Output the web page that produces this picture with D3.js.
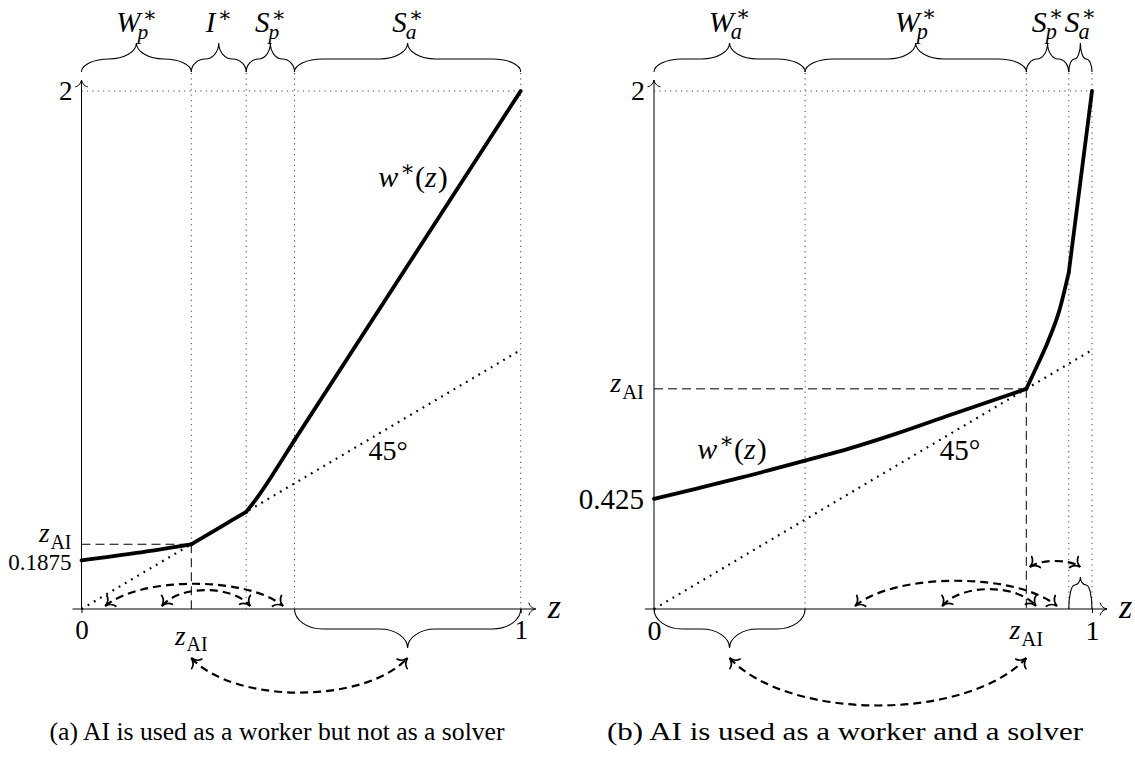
<!DOCTYPE html>
<html>
<head>
<meta charset="utf-8">
<script src="https://cdn.jsdelivr.net/npm/d3@7"></script>
<style>
  body { margin: 0; background: #fff; }
  text { font-family: "Liberation Serif", "DejaVu Serif", serif; fill: #000; }
</style>
</head>
<body>
<svg id="chart" width="1135" height="758"></svg>
<script>
// curve w*(z), panel (a)
const leftZ = [0, 0.125, 0.25, 0.3125, 0.375, 0.40, 0.43, 0.46, 0.485, 1];
const leftW = [0.1875, 0.2165, 0.25, 0.3125, 0.375, 0.43, 0.505, 0.585, 0.652, 2];
const leftBounds = [0, 0.25, 0.375, 0.485, 1];
const leftRegions = [["W", "p"], ["I", null], ["S", "p"], ["S", "a"]];
const leftZAI = 0.25;
const leftIntercept = "0.1875";
const leftArcs = [[0.054, 0.459], [0.183, 0.384]];

// curve w*(z), panel (b)
const rightZ = [0, 0.1, 0.2, 0.345, 0.447, 0.55, 0.676, 0.85, 0.875, 0.9, 0.925, 0.947, 1];
const rightW = [0.425, 0.466, 0.508, 0.573, 0.62, 0.675, 0.749, 0.85, 0.94, 1.035, 1.15, 1.3, 2];
const rightBounds = [0, 0.345, 0.85, 0.947, 1];
const rightRegions = [["W", "a"], ["W", "p"], ["S", "p"], ["S", "a"]];
const rightZAI = 0.85;
const rightIntercept = "0.425";
const rightArcs = [[0.459, 0.92], [0.658, 0.872]];
const rightSmallArc = [0.858, 0.973];

const yMax = 2;
const captions = ["(a) AI is used as a worker but not as a solver",
                  "(b) AI is used as a worker and a solver"];

const svg = d3.select("#chart");
const defs = svg.append("defs");

// tikz style "to" arrow tips
function tipMarker(id, sw, s) {
  defs.append("marker")
    .attr("id", id)
    .attr("viewBox", "-12 -9 14 18")
    .attr("refX", 0).attr("refY", 0)
    .attr("markerWidth", 14).attr("markerHeight", 18)
    .attr("markerUnits", "userSpaceOnUse")
    .attr("orient", "auto-start-reverse")
    .append("path")
    .attr("d", `M${-8 * s},${-7 * s} C${-7 * s},${-2.5 * s} ${-3 * s},${-0.7 * s} 0,0 C${-3 * s},${0.7 * s} ${-7 * s},${2.5 * s} ${-8 * s},${7 * s}`)
    .attr("fill", "none").attr("stroke", "#000").attr("stroke-width", sw)
    .attr("stroke-linecap", "round");
}
tipMarker("tipThin", 1, 0.85);
tipMarker("tipThick", 1.7, 1);

// text with italic/upright pieces and scripts, y = baseline
function tex(g, x, y, pieces, size, anchor) {
  const grp = g.append("g");
  let cx = 0;
  pieces.forEach(p => {
    if (p.sup !== undefined || p.sub !== undefined) {
      let w1 = 0, w2 = 0;
      if (p.sup) {
        const s = grp.append("text").attr("x", cx + 1).attr("y", -size * 0.36)
          .attr("font-size", size * 0.72).text(p.sup);
        w1 = s.node().getComputedTextLength() + 1;
      }
      if (p.sub) {
        const k = p.kern || 0;
        const s = grp.append("text").attr("x", cx + k).attr("y", size * 0.24)
          .attr("font-size", size * 0.74)
          .attr("font-style", p.subUp ? "normal" : "italic").text(p.sub);
        w2 = s.node().getComputedTextLength() + k;
      }
      cx += Math.max(w1, w2);
    } else {
      const s = grp.append("text").attr("x", cx).attr("y", 0)
        .attr("font-size", size)
        .attr("font-style", p.i ? "italic" : "normal").text(p.t);
      cx += s.node().getComputedTextLength() + (p.i ? 1 : 0);
    }
  });
  const dx = anchor === "middle" ? -cx / 2 : anchor === "end" ? -cx : 0;
  grp.attr("transform", `translate(${x + dx},${y})`);
}

const zAI = [{t: "z", i: true}, {sub: "AI", subUp: true}];

// curly brace between x1 and x2, base y0, dir -1 up / +1 down
function brace(g, x1, x2, y0, dir, h, tip) {
  const r = Math.min(28, (x2 - x1) / 4);
  const xm = (x1 + x2) / 2;
  const yf = y0 + dir * h, yt = y0 + dir * tip;
  const ym = y0 + dir * (h + (tip - h) * 0.45);
  const d = `M${x1},${y0}
    C${x1},${y0 + dir * h * 0.55} ${x1 + r * 0.45},${yf} ${x1 + r},${yf}
    L${xm - r},${yf}
    C${xm - r * 0.45},${yf} ${xm},${ym} ${xm},${yt}
    C${xm},${ym} ${xm + r * 0.45},${yf} ${xm + r},${yf}
    L${x2 - r},${yf}
    C${x2 - r * 0.45},${yf} ${x2},${y0 + dir * h * 0.55} ${x2},${y0}`;
  g.append("path").attr("d", d).attr("fill", "none")
    .attr("stroke", "#000").attr("stroke-width", 1.1);
}

// dashed bent arrow, both ends
function arc(g, x1, x2, y, depth, dir) {
  const L = x2 - x1;
  const c = dir * depth / 0.75;
  g.append("path")
    .attr("d", `M${x1},${y} C${x1 + 0.2 * L},${y + c} ${x2 - 0.2 * L},${y + c} ${x2},${y}`)
    .attr("fill", "none").attr("stroke", "#000").attr("stroke-width", 2.2)
    .attr("stroke-dasharray", "8,5")
    .attr("marker-start", "url(#tipThick)").attr("marker-end", "url(#tipThick)");
}

function panel(opt) {
  const g = svg.append("g");
  const x = d3.scaleLinear().domain([0, 1]).range(opt.xr);
  const y = d3.scaleLinear().domain([0, yMax]).range([609, 91]);
  const fs = opt.fs;
  const x0 = x(0), y0 = y(0);

  const curveAt = z => {
    const i = d3.bisectLeft(opt.zs, z);
    if (opt.zs[i] === z) return opt.ws[i];
    const t = (z - opt.zs[i - 1]) / (opt.zs[i] - opt.zs[i - 1]);
    return opt.ws[i - 1] + t * (opt.ws[i] - opt.ws[i - 1]);
  };

  // dotted guides
  const dotted = {stroke: "#444", "stroke-width": 1, "stroke-dasharray": "1.2,4.2"};
  const line = (x1, y1, x2, y2, st) => {
    const l = g.append("line").attr("x1", x1).attr("y1", y1).attr("x2", x2).attr("y2", y2);
    Object.entries(st).forEach(([k, v]) => l.attr(k, v));
    return l;
  };
  line(x0, y(yMax), x(1), y(yMax), dotted);
  opt.bounds.slice(1).forEach(b => {
    if (b === opt.zai) {
      line(x(b), 73, x(b), y(curveAt(b)), dotted);
    } else {
      line(x(b), 73, x(b), y0, dotted);
    }
  });

  // dashed lines at z_AI
  const dashed = {stroke: "#000", "stroke-width": 1, "stroke-dasharray": "9,5"};
  line(x0, y(curveAt(opt.zai)), x(opt.zai), y(curveAt(opt.zai)), dashed);
  line(x(opt.zai), y(curveAt(opt.zai)), x(opt.zai), y0, dashed);

  // 45 degree line
  line(x(0), y(0), x(1), y(1), {stroke: "#000", "stroke-width": 2.2, "stroke-dasharray": "1.8,5.4"});

  // axes
  g.append("line").attr("x1", x0 - 9).attr("y1", y0).attr("x2", x(1) + 15).attr("y2", y0)
    .attr("stroke", "#000").attr("stroke-width", 1).attr("marker-end", "url(#tipThin)");
  g.append("line").attr("x1", x0).attr("y1", y0).attr("x2", x0).attr("y2", 80)
    .attr("stroke", "#000").attr("stroke-width", 1).attr("marker-end", "url(#tipThin)");

  const xAxis = g.append("g").attr("transform", `translate(0,${y0})`)
    .call(d3.axisBottom(x).tickValues([0, 1]).tickSize(4).tickPadding(7).tickFormat(d3.format("d")));
  xAxis.select(".domain").remove();
  xAxis.selectAll("text").attr("font-size", fs).attr("font-family", null);
  const yAxis = g.append("g").attr("transform", `translate(${x0},0)`)
    .call(d3.axisLeft(y).tickValues([yMax]).tickSize(0).tickPadding(9).tickFormat(d3.format("d")));
  yAxis.select(".domain").remove();
  yAxis.selectAll("text").attr("font-size", fs).attr("font-family", null);

  // the curve, region by region
  const lineGen = d3.line().x(d => x(d[0])).y(d => y(d[1])).curve(d3.curveMonotoneX);
  const pts = opt.zs.map((z, i) => [z, opt.ws[i]]);
  for (let k = 0; k < opt.bounds.length - 1; k++) {
    const seg = pts.filter(p => p[0] >= opt.bounds[k] && p[0] <= opt.bounds[k + 1]);
    g.append("path").attr("d", lineGen(seg)).attr("fill", "none")
      .attr("stroke", "#000").attr("stroke-width", 3.8)
      .attr("stroke-linecap", "round").attr("stroke-linejoin", "round");
  }

  // top braces and labels
  for (let k = 0; k < opt.regions.length; k++) {
    const a = x(opt.bounds[k]), b = x(opt.bounds[k + 1]);
    brace(g, a, b, 72, -1, 13, 29);
    const [base, sub] = opt.regions[k];
    const pieces = [{t: base, i: true}, sub ? {sup: "∗", sub: sub, kern: base === "W" ? -4 : -2} : {sup: "∗"}];
    tex(g, (a + b) / 2, 32, pieces, fs + 2, "middle");
  }

  // axis labels
  tex(g, x(1) + 27, 618, [{t: "z", i: true}], 34, "start");
  tex(g, x(opt.zai), opt.zaiBase, zAI, fs, "middle");
  tex(g, x0 - 10, y(curveAt(opt.zai)) + opt.zaiDy, zAI, fs, "end");
  tex(g, x0 - 10, y(opt.ws[0]) + opt.interceptDy, [{t: opt.intercept}], opt.interceptFs, "end");
  tex(g, opt.wLabel[0], opt.wLabel[1], [{t: "w", i: true}, {sup: "∗"}, {t: "("}, {t: "z", i: true}, {t: ")"}], 30, "middle");
  tex(g, opt.degLabel, 460, [{t: "45°"}], fs + 1, "middle");

  // lower brace
  const lb = opt.lowerBrace;
  brace(g, x(lb[0]), x(lb[1]), y0, 1, 20, 39);
  const tipX = x((lb[0] + lb[1]) / 2);

  // arcs over the axis
  opt.arcs.forEach((a, i) => {
    arc(g, x(a[0]), x(a[1]), y0 - 3, (x(a[1]) - x(a[0])) * (i === 0 ? 0.125 : 0.18), -1);
  });

  // arc below linking z_AI and the lower brace
  const ends = [x(opt.zai), tipX].sort((p, q) => p - q);
  arc(g, ends[0], ends[1], 658, (ends[1] - ends[0]) * 0.16, 1);

  return {g, x, y};
}

const left = panel({
  xr: [81.5, 520.7], fs: 27,
  zs: leftZ, ws: leftW, bounds: leftBounds, regions: leftRegions, zai: leftZAI,
  intercept: leftIntercept, interceptFs: 23, interceptDy: 10, zaiDy: -2,
  zaiBase: 645, wLabel: [413, 187], degLabel: 388,
  lowerBrace: [leftBounds[3], leftBounds[4]], arcs: leftArcs
});

const right = panel({
  xr: [654, 1092], fs: 28,
  zs: rightZ, ws: rightW, bounds: rightBounds, regions: rightRegions, zai: rightZAI,
  intercept: rightIntercept, interceptFs: 29, interceptDy: 10, zaiDy: 3,
  zaiBase: 639, wLabel: [732, 459], degLabel: 960,
  lowerBrace: [rightBounds[0], rightBounds[1]], arcs: rightArcs
});

// small upward brace over S_a in panel (b) and its arc to z_AI
brace(right.g, right.x(rightBounds[3]), right.x(rightBounds[4]), 609, -1, 24, 32);
arc(right.g, right.x(rightSmallArc[0]), right.x(rightSmallArc[1]), 567, 6, -1);

// captions
svg.append("text").attr("x", 277).attr("y", 740).attr("text-anchor", "middle")
  .attr("font-size", 26).attr("textLength", 455).attr("lengthAdjust", "spacingAndGlyphs")
  .text(captions[0]);
svg.append("text").attr("x", 845).attr("y", 740).attr("text-anchor", "middle")
  .attr("font-size", 26).attr("textLength", 476).attr("lengthAdjust", "spacingAndGlyphs")
  .text(captions[1]);
</script>
</body>
</html>
